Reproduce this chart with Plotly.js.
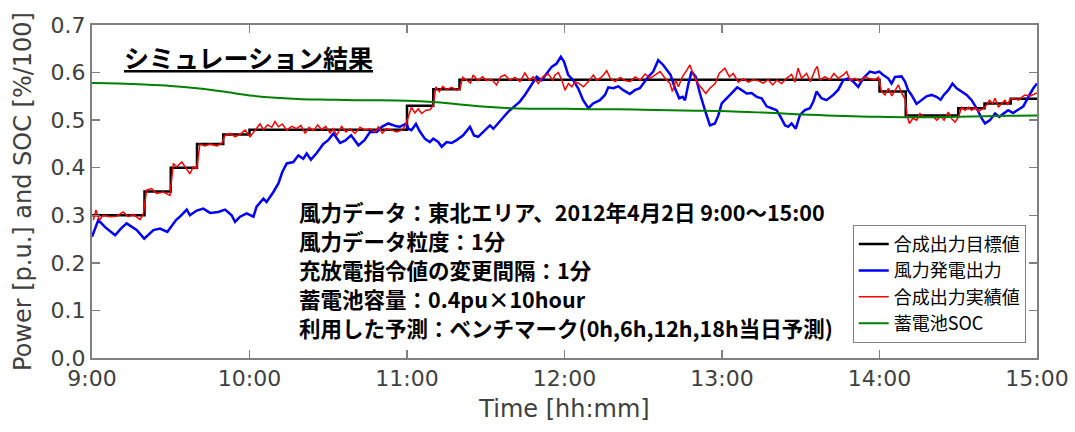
<!DOCTYPE html>
<html>
<head>
<meta charset="utf-8">
<script src="https://cdn.plot.ly/plotly-3.0.1.min.js"></script>
<style>html,body{margin:0;padding:0;background:#fff;}#chart{width:1075px;height:432px;}</style>
</head>
<body>
<div id="chart"></div>
<script>
// x values are minutes after 9:00
const tickMinutes = [0, 60, 120, 180, 240, 300, 360];
const tickLabels = ["9:00", "10:00", "11:00", "12:00", "13:00", "14:00", "15:00"];

const seriesNames = ["合成出力目標値", "風力発電出力", "合成出力実績値", "蓄電池SOC"];

// 合成出力目標値 (step values)
const targetT = [0, 20, 30, 40, 50, 60, 120, 130, 140, 300, 310, 330, 340, 350, 360];
const targetV = [0.30, 0.35, 0.40, 0.45, 0.47, 0.48, 0.53, 0.565, 0.585, 0.56, 0.51, 0.525, 0.535, 0.545, 0.545];

// 風力発電出力
const windT = [0, 2.4, 5, 8.8, 11, 13.2, 17, 19.9, 23.4, 25.9, 28.7, 32, 33.5, 36.1, 37.3, 39.9, 42.4, 45, 48.1, 50.7,
  53.2, 54.5, 56.4, 58.9, 61.5, 62.7, 65.3, 66.5, 69.1, 71, 72.5, 74.2, 76.7, 78.6, 80.5, 81.8, 83.4, 85.6, 88.1, 90,
  92, 94.5, 96.4, 98.7, 101.5, 103.8, 105.9, 108.5, 110.4, 112.9, 116, 117.3, 119.8, 120.5, 121.7, 123.4, 124.9, 126.8, 128.7, 130,
  131.9, 133.2, 135.1, 137, 138.9, 141.4, 144, 145.5, 147.1, 149, 151.6, 152.9, 154.8, 156.7, 158.6, 161.1, 163, 164.9, 167.5, 169.4,
  171.3, 173.2, 175.1, 177, 178.6, 179.8, 181.4, 183.3, 185.2, 187.1, 189.1, 190.9, 193.5, 195.4, 196.7, 198.6, 200.5, 202.4, 204.9, 206.8,
  208.7, 210.6, 211.9, 213.8, 215.7, 217.6, 218.9, 220.4, 222.1, 223.7, 225, 225.9, 227.1, 228.4, 230, 231.6, 233.5, 235.4, 237.3, 238.6,
  239.9, 241.7, 244.3, 245.8, 247.5, 249.4, 251.3, 253.2, 255.1, 257, 258.9, 260.8, 262.3, 264, 265.2, 266.5, 268.1, 269.7, 271.6, 273.5,
  274.8, 276, 277.9, 279.8, 282.4, 284.3, 286.2, 288.1, 290, 291.9, 293.8, 296.3, 298.3, 299.9, 301.4, 303.3, 304.6, 305.9, 308.4, 309.7,
  310.9, 312.2, 314.1, 316, 317.9, 319.8, 321.7, 323.3, 324.5, 326.2, 327.8, 329.4, 331.3, 333.2, 335.1, 337, 339, 340.2, 342.1, 344,
  345.6, 347.1, 349, 350.9, 352.8, 354.8, 356.7, 358.6, 360];
const windV = [0.255, 0.29, 0.275, 0.258, 0.272, 0.283, 0.269, 0.251, 0.269, 0.272, 0.265, 0.29, 0.297, 0.312, 0.300, 0.31, 0.314, 0.305, 0.307, 0.312,
  0.300, 0.286, 0.297, 0.304, 0.297, 0.318, 0.335, 0.328, 0.349, 0.367, 0.391, 0.409, 0.412, 0.426, 0.419, 0.430, 0.417, 0.431, 0.450, 0.458,
  0.472, 0.452, 0.457, 0.468, 0.447, 0.458, 0.475, 0.475, 0.486, 0.493, 0.487, 0.486, 0.493, 0.482, 0.479, 0.492, 0.476, 0.461, 0.454, 0.461,
  0.454, 0.444, 0.454, 0.452, 0.458, 0.468, 0.486, 0.468, 0.465, 0.475, 0.489, 0.482, 0.493, 0.506, 0.518, 0.529, 0.539, 0.553, 0.574, 0.591,
  0.584, 0.598, 0.612, 0.619, 0.633, 0.623, 0.595, 0.584, 0.567, 0.542, 0.525, 0.535, 0.542, 0.553, 0.569, 0.567, 0.571, 0.563, 0.555, 0.563,
  0.567, 0.581, 0.591, 0.602, 0.626, 0.616, 0.605, 0.595, 0.567, 0.546, 0.549, 0.542, 0.574, 0.602, 0.591, 0.556, 0.521, 0.489, 0.493, 0.510,
  0.535, 0.546, 0.562, 0.569, 0.563, 0.556, 0.557, 0.549, 0.546, 0.529, 0.525, 0.521, 0.507, 0.489, 0.486, 0.493, 0.482, 0.511, 0.521, 0.525,
  0.539, 0.560, 0.546, 0.542, 0.553, 0.564, 0.584, 0.588, 0.581, 0.570, 0.588, 0.602, 0.599, 0.602, 0.595, 0.588, 0.577, 0.591, 0.592, 0.581,
  0.563, 0.553, 0.534, 0.542, 0.550, 0.553, 0.549, 0.543, 0.553, 0.563, 0.577, 0.567, 0.560, 0.553, 0.542, 0.525, 0.503, 0.493, 0.500, 0.514,
  0.507, 0.514, 0.521, 0.515, 0.521, 0.529, 0.549, 0.567, 0.577];

// 合成出力実績値
const actualT = [0.5, 1.5, 2.8, 4.3, 6.9, 9.4, 11.9, 13.8, 15.7, 18.3, 19.6, 20.8, 22.7, 24.6, 27.2, 29.7, 31, 32.3, 34.2, 36.1,
  37.3, 38.6, 39.9, 41.1, 43, 44.9, 47.5, 49.4, 50.7, 52.6, 54.5, 56.4, 58.3, 60.2, 62.1, 64, 65.3, 66.9, 68.5, 69.7,
  71, 72.5, 74.2, 76.1, 78, 79.6, 81.2, 82.7, 84.3, 86, 87.5, 89, 90.7, 92, 93.2, 95.1, 96.7, 98.3, 100.2, 102.1,
  104, 105.9, 107.8, 109.1, 110.6, 112.3, 114.2, 116.1, 118, 119.5, 120.5, 121.7, 123, 124.3, 125.6, 127.2, 128.7, 130, 131, 132.3,
  133.6, 135.1, 137, 138.9, 140.2, 141.2, 142.7, 144.2, 145.2, 147.1, 148.8, 150.3, 152.2, 154.1, 155.7, 157.3, 159.2, 161.1, 163, 164.9,
  166.6, 168.1, 170, 171.9, 173.8, 175.5, 176.4, 177.7, 179, 180.2, 181.5, 182.8, 184, 185.5, 187.2, 189.1, 191, 192.3, 194.2, 196.1,
  197.4, 199.3, 201.2, 203.1, 205, 206.9, 208.8, 210.7, 212.6, 214.5, 216.4, 218.3, 220.2, 221.1, 222.4, 223.4, 224.9, 226.6, 227.8, 229.1,
  230.8, 232.3, 233.8, 235.4, 237.4, 238.9, 241.1, 242.8, 244.3, 246.2, 248.1, 250, 251.9, 253.8, 255.7, 257.6, 259.3, 260.8, 262.7, 264.6,
  266.5, 267.8, 269, 270.3, 272.2, 273.7, 275.4, 276.3, 277.3, 279.2, 281.1, 282.6, 284.3, 286.2, 287.5, 288.7, 290.6, 292.5, 294.4, 296.4,
  298.3, 299.6, 300.8, 302.1, 303.4, 304.7, 305.9, 307.2, 308.5, 309.7, 310.6, 311.4, 312.7, 314.2, 315.4, 316.7, 318.6, 320.5, 321.8, 323.3,
  324.6, 326.2, 327.5, 328.8, 330.1, 331.3, 332.6, 333.9, 335.1, 336.4, 337.7, 339.6, 340.8, 341.9, 343.1, 344, 345.3, 346.6, 347.8, 348.7,
  349.7, 351, 352.9, 354.2, 355.4, 357.4, 359.3, 360];
const actualV = [0.29, 0.311, 0.29, 0.30, 0.297, 0.298, 0.307, 0.297, 0.302, 0.291, 0.304, 0.353, 0.356, 0.346, 0.349, 0.342, 0.409, 0.402, 0.412, 0.395,
  0.387, 0.402, 0.398, 0.45, 0.446, 0.45, 0.446, 0.451, 0.468, 0.472, 0.465, 0.470, 0.479, 0.465, 0.479, 0.492, 0.48, 0.49, 0.485, 0.497,
  0.486, 0.492, 0.479, 0.487, 0.482, 0.489, 0.472, 0.485, 0.478, 0.490, 0.480, 0.487, 0.473, 0.482, 0.468, 0.487, 0.475, 0.482, 0.472, 0.485,
  0.479, 0.482, 0.475, 0.486, 0.473, 0.482, 0.479, 0.475, 0.479, 0.490, 0.507, 0.527, 0.515, 0.524, 0.514, 0.521, 0.522, 0.531, 0.570, 0.560,
  0.571, 0.564, 0.569, 0.563, 0.566, 0.590, 0.584, 0.578, 0.595, 0.583, 0.591, 0.583, 0.586, 0.574, 0.591, 0.595, 0.584, 0.590, 0.581, 0.599,
  0.584, 0.591, 0.577, 0.592, 0.597, 0.584, 0.595, 0.600, 0.584, 0.563, 0.577, 0.570, 0.581, 0.577, 0.570, 0.581, 0.595, 0.584, 0.591, 0.604,
  0.588, 0.581, 0.590, 0.583, 0.581, 0.591, 0.584, 0.597, 0.588, 0.595, 0.602, 0.588, 0.577, 0.560, 0.584, 0.570, 0.591, 0.605, 0.616, 0.595,
  0.577, 0.567, 0.556, 0.567, 0.577, 0.598, 0.609, 0.591, 0.598, 0.580, 0.587, 0.580, 0.585, 0.583, 0.578, 0.585, 0.574, 0.584, 0.577, 0.588,
  0.596, 0.580, 0.609, 0.588, 0.598, 0.581, 0.605, 0.613, 0.585, 0.591, 0.585, 0.598, 0.588, 0.595, 0.602, 0.584, 0.588, 0.581, 0.591, 0.587,
  0.585, 0.590, 0.560, 0.553, 0.567, 0.551, 0.563, 0.574, 0.556, 0.545, 0.507, 0.493, 0.504, 0.500, 0.514, 0.507, 0.506, 0.507, 0.500, 0.508,
  0.500, 0.517, 0.503, 0.496, 0.507, 0.527, 0.521, 0.527, 0.521, 0.527, 0.518, 0.525, 0.532, 0.542, 0.535, 0.546, 0.528, 0.535, 0.542, 0.532,
  0.543, 0.546, 0.542, 0.548, 0.553, 0.551, 0.556, 0.557];

// 蓄電池SOC
const socT = [0, 10, 20, 30, 40, 50, 60, 70, 80, 90, 100, 110, 120, 130, 140, 150, 160, 170, 180, 190,
  200, 210, 220, 230, 240, 250, 260, 270, 280, 290, 300, 310, 320, 330, 340, 350, 360];
const socV = [0.578, 0.577, 0.575, 0.572, 0.567, 0.560, 0.552, 0.547, 0.544, 0.543, 0.542, 0.542, 0.541, 0.538, 0.533, 0.528, 0.525, 0.524, 0.524, 0.523,
  0.523, 0.522, 0.521, 0.520, 0.519, 0.517, 0.515, 0.512, 0.510, 0.508, 0.507, 0.506, 0.506, 0.507, 0.508, 0.509, 0.510];

const titleText = "シミュレーション結果";
const infoLines = [
  "風力データ：東北エリア、2012年4月2日 9:00～15:00",
  "風力データ粒度：1分",
  "充放電指令値の変更間隔：1分",
  "蓄電池容量：0.4pu×10hour",
  "利用した予測：ベンチマーク(0h,6h,12h,18h当日予測)"
];

const jp = '"Noto Sans CJK JP", "Noto Sans", sans-serif';
const tickFont = {family: '"DejaVu Sans", sans-serif', size: 22, color: '#404040'};

const traces = [
  {x: targetT, y: targetV, name: seriesNames[0], mode: 'lines', line: {color: '#000000', width: 2.5, shape: 'hv'}},
  {x: windT, y: windV, name: seriesNames[1], mode: 'lines', line: {color: '#0000ff', width: 2.5}},
  {x: actualT, y: actualV, name: seriesNames[2], mode: 'lines', line: {color: '#ff0000', width: 1.5}},
  {x: socT, y: socV, name: seriesNames[3], mode: 'lines', line: {color: '#008000', width: 2, shape: 'spline'}}
];

const axisCommon = {
  showline: true, linecolor: '#808080', linewidth: 2, mirror: 'ticks',
  ticks: 'inside', ticklen: 8, tickwidth: 1.5, tickcolor: '#808080',
  showgrid: false, zeroline: false, tickfont: tickFont
};

// one annotation per info line, stacked from the top line downward
const infoAnnotations = infoLines.map((t, i) => ({
  xref: 'paper', yref: 'paper', x: 0.217, y: 0.440 - i * 0.0868,
  xanchor: 'left', yanchor: 'middle', showarrow: false, align: 'left',
  text: '<b>' + t + '</b>', font: {family: jp, size: 21.5, color: '#000000'}
}));

const layout = {
  width: 1075, height: 432,
  margin: {l: 92, r: 38, t: 25, b: 74},
  paper_bgcolor: '#ffffff', plot_bgcolor: '#ffffff',
  showlegend: true,
  legend: {
    x: 0.805, y: 0.40, xanchor: 'left', yanchor: 'top',
    bgcolor: '#ffffff', bordercolor: '#808080', borderwidth: 1,
    font: {family: jp, size: 18, color: '#000000'},
    tracegroupgap: 0, itemwidth: 30
  },
  xaxis: Object.assign({}, axisCommon, {
    range: [0, 360], tickmode: 'array', tickvals: tickMinutes, ticktext: tickLabels,
    title: {text: 'Time [hh:mm]', font: {family: '"DejaVu Sans", sans-serif', size: 24, color: '#404040'}, standoff: 10}
  }),
  yaxis: Object.assign({}, axisCommon, {
    range: [0, 0.7], dtick: 0.1, tick0: 0, tickformat: '.1f',
    title: {text: 'Power [p.u.] and SOC [%/100]', font: {family: '"DejaVu Sans", sans-serif', size: 24, color: '#404040'}, standoff: 12}
  }),
  annotations: [
    {xref: 'paper', yref: 'paper', x: 0.032, y: 0.905, xanchor: 'left', yanchor: 'middle', showarrow: false,
     text: '<b><u>' + titleText + '</u></b>', font: {family: jp, size: 25, color: '#000000'}}
  ].concat(infoAnnotations)
};

Plotly.newPlot('chart', traces, layout, {staticPlot: true, displayModeBar: false});
</script>
</body>
</html>
